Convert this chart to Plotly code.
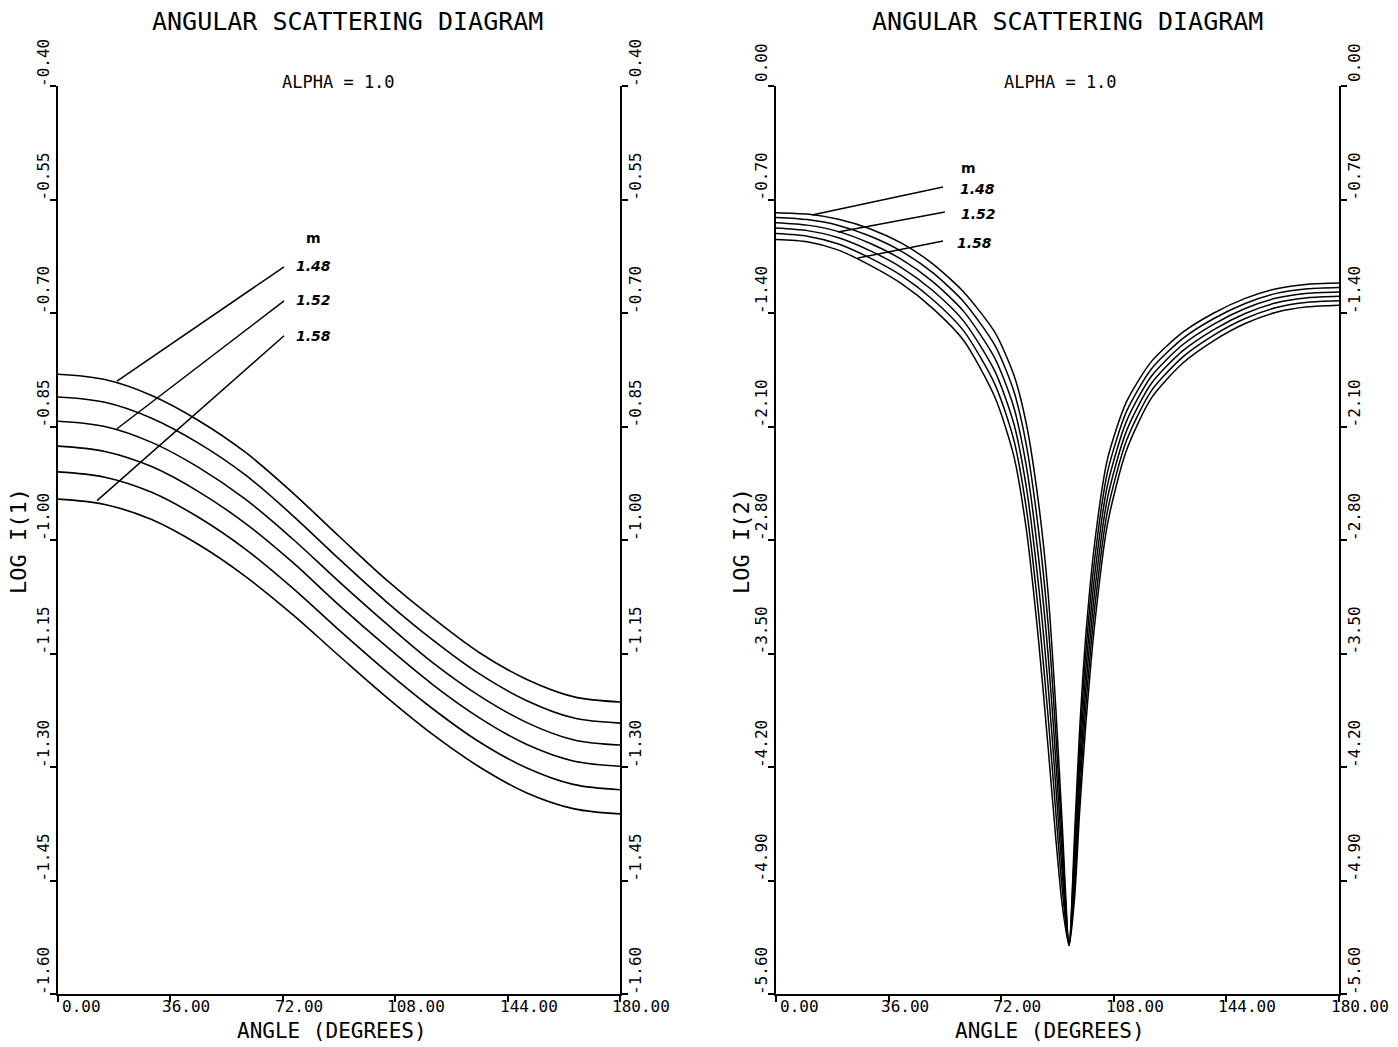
import plotly.graph_objects as go

# ---------------- data ----------------
angle_left = [0, 15, 30, 45, 60, 75, 90, 105, 120, 135, 150, 165, 180]
log_i1_c1 = [-0.781, -0.788, -0.809, -0.842, -0.884, -0.937, -0.995, -1.052, -1.103, -1.149, -1.184, -1.207, -1.214]
log_i1_c2 = [-0.811, -0.818, -0.839, -0.872, -0.914, -0.967, -1.025, -1.081, -1.132, -1.177, -1.212, -1.235, -1.242]
log_i1_c3 = [-0.843, -0.850, -0.871, -0.904, -0.946, -0.998, -1.055, -1.110, -1.162, -1.206, -1.241, -1.264, -1.271]
log_i1_c4 = [-0.876, -0.883, -0.903, -0.936, -0.978, -1.029, -1.086, -1.140, -1.191, -1.235, -1.270, -1.292, -1.299]
log_i1_c5 = [-0.910, -0.917, -0.937, -0.970, -1.012, -1.063, -1.119, -1.173, -1.223, -1.267, -1.301, -1.323, -1.330]
log_i1_c6 = [-0.946, -0.953, -0.973, -1.006, -1.048, -1.098, -1.153, -1.207, -1.257, -1.300, -1.334, -1.355, -1.362]

angle_right = [0, 10, 20, 30, 40, 50, 60, 70, 76, 80, 84, 87, 89.5, 91.5, 93.7,
               95.5, 97, 99, 102, 106, 112, 120, 130, 140, 150, 160, 170, 180]
log_i2_c1 = [-0.781, -0.790, -0.822, -0.880, -0.968, -1.095, -1.27, -1.52, -1.78, -2.08, -2.58, -3.13, -3.85, -4.55, -5.30,
             -4.60, -4.00, -3.40, -2.80, -2.30, -1.95, -1.70, -1.52, -1.40, -1.31, -1.25, -1.222, -1.215]
log_i2_c2 = [-0.811, -0.824, -0.860, -0.925, -1.018, -1.150, -1.33, -1.60, -1.88, -2.21, -2.75, -3.32, -4.01, -4.65, -5.30,
             -4.68, -4.10, -3.51, -2.90, -2.38, -2.01, -1.745, -1.558, -1.434, -1.341, -1.279, -1.250, -1.242]
log_i2_c3 = [-0.843, -0.858, -0.898, -0.970, -1.068, -1.205, -1.39, -1.68, -1.98, -2.34, -2.92, -3.51, -4.17, -4.75, -5.30,
             -4.76, -4.20, -3.62, -3.00, -2.46, -2.07, -1.79, -1.596, -1.468, -1.372, -1.308, -1.278, -1.270]
log_i2_c4 = [-0.876, -0.892, -0.936, -1.015, -1.118, -1.260, -1.45, -1.76, -2.08, -2.47, -3.09, -3.70, -4.33, -4.85, -5.30,
             -4.84, -4.30, -3.73, -3.10, -2.54, -2.13, -1.835, -1.634, -1.502, -1.403, -1.337, -1.306, -1.297]
log_i2_c5 = [-0.910, -0.926, -0.974, -1.060, -1.168, -1.315, -1.51, -1.84, -2.18, -2.60, -3.26, -3.89, -4.49, -4.95, -5.30,
             -4.92, -4.40, -3.84, -3.20, -2.62, -2.19, -1.88, -1.672, -1.536, -1.434, -1.366, -1.334, -1.325]
log_i2_c6 = [-0.946, -0.960, -1.012, -1.105, -1.218, -1.370, -1.57, -1.92, -2.28, -2.73, -3.43, -4.08, -4.65, -5.05, -5.30,
             -5.00, -4.50, -3.95, -3.30, -2.70, -2.25, -1.925, -1.710, -1.570, -1.465, -1.395, -1.362, -1.352]

x_ticks = [0, 36, 72, 108, 144, 180]
x_tick_labels = ["0.00", "36.00", "72.00", "108.00", "144.00", "180.00"]
y_ticks_left = [-0.40, -0.55, -0.70, -0.85, -1.00, -1.15, -1.30, -1.45, -1.60]
y_tick_labels_left = ["-0.40", "-0.55", "-0.70", "-0.85", "-1.00", "-1.15", "-1.30", "-1.45", "-1.60"]
y_ticks_right = [0.0, -0.70, -1.40, -2.10, -2.80, -3.50, -4.20, -4.90, -5.60]
y_tick_labels_right = ["0.00", "-0.70", "-1.40", "-2.10", "-2.80", "-3.50", "-4.20", "-4.90", "-5.60"]

m_labels = ["1.48", "1.52", "1.58"]
# leader lines (start near label, end on curve)
lead_left_x0 = [72.4, 72.4, 72.4]
lead_left_y0 = [-0.639, -0.684, -0.730]
lead_left_x1 = [18.9, 18.9, 12.5]
lead_left_y1 = [-0.790, -0.853, -0.948]
label_left_x = [81.7, 81.7, 81.7]
label_left_y = [-0.638, -0.683, -0.730]
m_left = (81.7, -0.601)

lead_right_x0 = [53.4, 54.0, 53.4]
lead_right_y0 = [-0.623, -0.777, -0.956]
lead_right_x1 = [11.5, 19.8, 26.2]
lead_right_y1 = [-0.796, -0.901, -1.061]
label_right_x = [64.3, 64.6, 63.6]
label_right_y = [-0.635, -0.790, -0.969]
m_right = (61.4, -0.506)

# ---------------- figure ----------------
W, H = 1398, 1047
FONT = "DejaVu Sans Mono"
fig = go.Figure()

left_curves = [log_i1_c1, log_i1_c2, log_i1_c3, log_i1_c4, log_i1_c5, log_i1_c6]
right_curves = [log_i2_c1, log_i2_c2, log_i2_c3, log_i2_c4, log_i2_c5, log_i2_c6]
for c in left_curves:
    fig.add_trace(go.Scatter(x=angle_left, y=c, mode="lines", xaxis="x", yaxis="y",
                             line=dict(color="black", width=1.6, shape="spline", smoothing=1.0),
                             showlegend=False, hoverinfo="skip"))
for c in right_curves:
    fig.add_trace(go.Scatter(x=angle_right, y=c, mode="lines", xaxis="x2", yaxis="y2",
                             line=dict(color="black", width=1.5, shape="spline", smoothing=0.7),
                             showlegend=False, hoverinfo="skip"))

for i in range(3):
    fig.add_trace(go.Scatter(x=[lead_left_x0[i], lead_left_x1[i]], y=[lead_left_y0[i], lead_left_y1[i]],
                             mode="lines", xaxis="x", yaxis="y", line=dict(color="black", width=1.5),
                             showlegend=False, hoverinfo="skip"))
    fig.add_trace(go.Scatter(x=[lead_right_x0[i], lead_right_x1[i]], y=[lead_right_y0[i], lead_right_y1[i]],
                             mode="lines", xaxis="x2", yaxis="y2", line=dict(color="black", width=1.5),
                             showlegend=False, hoverinfo="skip"))

px_l0, px_l1 = 58, 620
px_r0, px_r1 = 776, 1339
py_top, py_bot = 86, 994
ydom = [(H - py_bot) / H, (H - py_top) / H]

axis_common = dict(showgrid=False, zeroline=False, showline=True, linecolor="black", linewidth=1.6,
                   ticks="outside", ticklen=6, tickcolor="black", tickwidth=1.6, showticklabels=False)

fig.update_layout(
    width=W, height=H, margin=dict(l=0, r=0, t=0, b=0),
    paper_bgcolor="white", plot_bgcolor="white",
    xaxis=dict(domain=[px_l0 / W, px_l1 / W], range=[0, 180], tickvals=x_ticks, anchor="y", **axis_common),
    yaxis=dict(domain=ydom, range=[-1.60, -0.40], tickvals=y_ticks_left, anchor="x", mirror="ticks", **axis_common),
    xaxis2=dict(domain=[px_r0 / W, px_r1 / W], range=[0, 180], tickvals=x_ticks, anchor="y2", **axis_common),
    yaxis2=dict(domain=ydom, range=[-5.60, 0.0], tickvals=y_ticks_right, anchor="x2", mirror="ticks", **axis_common),
)

ann = []
tick_font = dict(family=FONT, size=16, color="black")
for xr, yr, yt, ylab in [("x", "y", y_ticks_left, y_tick_labels_left),
                         ("x2", "y2", y_ticks_right, y_tick_labels_right)]:
    for v, t in zip(yt, ylab):
        for xd, xs in [(0, -15), (1, 15)]:
            ann.append(dict(text=t, xref=xr + " domain", yref=yr, x=xd, y=v, xshift=xs, yshift=23,
                            textangle=-90, showarrow=False, xanchor="center", yanchor="middle", font=tick_font))
    for v, t in zip(x_ticks, x_tick_labels):
        ann.append(dict(text=t, xref=xr, yref=yr + " domain", x=v, y=0, xshift=(2 if v == 0 else -10), yshift=-1,
                        showarrow=False, xanchor="left", yanchor="top", font=tick_font))

title_font = dict(family=FONT, size=25, color="black")
alpha_font = dict(family=FONT, size=17, color="black")
axis_font = dict(family=FONT, size=21, color="black")
ann += [
    dict(text="ANGULAR SCATTERING DIAGRAM", xref="paper", yref="paper", x=347 / W, y=1 - 22 / H,
         showarrow=False, font=title_font, xanchor="center", yanchor="middle"),
    dict(text="ANGULAR SCATTERING DIAGRAM", xref="paper", yref="paper", x=1067 / W, y=1 - 22 / H,
         showarrow=False, font=title_font, xanchor="center", yanchor="middle"),
    dict(text="ALPHA = 1.0", xref="paper", yref="paper", x=338 / W, y=1 - 82 / H,
         showarrow=False, font=alpha_font, xanchor="center", yanchor="middle"),
    dict(text="ALPHA = 1.0", xref="paper", yref="paper", x=1060 / W, y=1 - 82 / H,
         showarrow=False, font=alpha_font, xanchor="center", yanchor="middle"),
    dict(text="ANGLE (DEGREES)", xref="paper", yref="paper", x=332 / W, y=1 - 1031 / H,
         showarrow=False, font=axis_font, xanchor="center", yanchor="middle"),
    dict(text="ANGLE (DEGREES)", xref="paper", yref="paper", x=1050 / W, y=1 - 1031 / H,
         showarrow=False, font=axis_font, xanchor="center", yanchor="middle"),
    dict(text="LOG I(1)", xref="paper", yref="paper", x=18 / W, y=1 - 541 / H, textangle=-90,
         showarrow=False, font=dict(family=FONT, size=22, color="black"), xanchor="center", yanchor="middle"),
    dict(text="LOG I(2)", xref="paper", yref="paper", x=741 / W, y=1 - 541 / H, textangle=-90,
         showarrow=False, font=dict(family=FONT, size=22, color="black"), xanchor="center", yanchor="middle"),
]

lab_font = dict(family="DejaVu Sans", size=14, color="black")
ann.append(dict(text="<b>m</b>", xref="x", yref="y", x=m_left[0], y=m_left[1], showarrow=False, font=lab_font))
ann.append(dict(text="<b>m</b>", xref="x2", yref="y2", x=m_right[0], y=m_right[1], showarrow=False, font=lab_font))
for i in range(3):
    ann.append(dict(text="<b><i>" + m_labels[i] + "</i></b>", xref="x", yref="y", x=label_left_x[i],
                    y=label_left_y[i], showarrow=False, font=lab_font))
    ann.append(dict(text="<b><i>" + m_labels[i] + "</i></b>", xref="x2", yref="y2", x=label_right_x[i],
                    y=label_right_y[i], showarrow=False, font=lab_font))

fig.update_layout(annotations=ann)
fig.write_html("out.html")
